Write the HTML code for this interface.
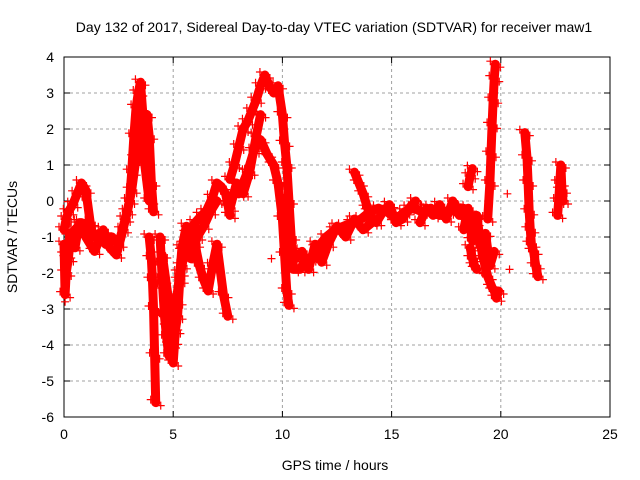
<!DOCTYPE html>
<html><head><meta charset="utf-8"><style>
body{margin:0;background:#fff}
svg{display:block;font-family:"Liberation Sans",sans-serif}
</style></head><body>
<svg id="chart" width="640" height="480">
<text x="334" y="32" font-size="14" text-anchor="middle">Day 132 of 2017, Sidereal Day-to-day VTEC variation (SDTVAR) for receiver maw1</text>
<text x="335" y="470" font-size="14" text-anchor="middle">GPS time / hours</text>
<text transform="translate(17,237) rotate(-90)" font-size="14" text-anchor="middle">SDTVAR / TECUs</text>
<g id="grid"></g>
<g id="axes"></g>
<g id="marks"></g>
</svg>
<script>
const xTicks=[0,5,10,15,20,25];
const yTicks=[4,3,2,1,0,-1,-2,-3,-4,-5,-6];
const trackA_t=[0,0.1,0.2,0.4,0.6,0.8,1.0,1.2,1.3];
const trackA_v=[-0.8,-0.5,-0.3,-0.1,0.2,0.5,0.3,-0.6,-0.9];
const trackB_t=[0,0.05,0.1,0.2,0.3,0.5,0.8,1.0,1.3,1.6,1.9,2.2,2.5,2.8,3.0,3.1,3.2,3.3,3.4,3.5,3.6,3.7,3.8,3.9,4.0,4.1];
const trackB_v=[-1.2,-2.6,-2.0,-1.6,-1.0,-0.8,-0.6,-0.7,-1.0,-0.9,-1.2,-1.0,-1.2,-0.5,0.0,0.8,1.8,2.6,3.0,3.3,2.5,1.5,2.4,1.8,0.5,-0.3];
const trackB2_t=[0.1,0.3,0.5,0.7,1.0,1.4,1.8,2.1,2.4,2.7,2.9,3.1,3.3,3.5,3.7,3.9];
const trackB2_v=[-1.5,-0.9,-1.3,-0.6,-1.0,-1.4,-0.8,-1.3,-1.5,-0.8,-0.3,0.3,1.2,2.2,1.0,0.0];
const trackC_t=[3.9,4.0,4.05,4.1,4.15,4.2];
const trackC_v=[-1.0,-1.6,-2.2,-3.0,-4.3,-5.6];
const trackD_t=[4.4,4.5,4.6,4.7,4.8,4.9,5.0,5.1,5.2,5.3,5.4,5.6,5.8,6.0,6.3,6.5,6.8,7.0,7.2,7.4,7.6];
const trackD_v=[-1.0,-2.2,-3.2,-3.8,-4.3,-4.0,-4.5,-3.6,-3.2,-2.2,-1.8,-1.2,-1.0,-0.6,-0.4,-0.3,0.1,0.5,0.4,0.2,-0.4];
const trackE_t=[4.5,4.8,5.0,5.3,5.5,5.7,6.0,6.2,6.4,6.6,6.8,7.0,7.3,7.5];
const trackE_v=[-1.5,-2.8,-3.5,-2.0,-1.4,-0.9,-1.2,-1.8,-2.2,-2.5,-1.8,-1.2,-2.6,-3.2];
const trackE2_t=[4.6,4.8,5.0,5.2,5.4,5.6,5.8,6.1,6.4,6.7,7.0];
const trackE2_v=[-2.5,-3.5,-3.9,-2.8,-1.3,-0.7,-1.6,-1.0,-0.7,-0.3,0.0];
const trackF_t=[7.6,7.8,8.0,8.2,8.4,8.6,8.8,9.0,9.2,9.4,9.6,9.8,10.0,10.1,10.2,10.3,10.4,10.5];
const trackF_v=[0.6,1.0,1.5,2.0,2.2,2.5,2.8,3.2,3.5,3.2,3.0,3.2,2.4,1.6,1.0,0.0,-1.0,-1.8];
const trackG_t=[8.0,8.4,8.7,9.0,9.3,9.6,9.8,10.0,10.1,10.2,10.3];
const trackG_v=[0.2,0.8,1.4,1.7,1.3,1.0,0.5,-0.5,-1.5,-2.5,-2.9];
const trackG2_t=[7.6,7.9,8.2,8.5,8.8,9.0];
const trackG2_v=[-0.2,0.5,0.2,0.8,1.8,2.4];
const trackH_t=[10.5,10.8,11.0,11.3,11.6,12.0,12.4,12.8,13.2,13.6,14.0,14.4,14.8,15.2,15.6,16.0,16.4,16.8,17.2,17.6,18.0,18.3];
const trackH_v=[-1.9,-1.9,-1.7,-1.6,-1.3,-1.0,-0.8,-0.7,-0.6,-0.5,-0.3,-0.2,-0.3,-0.5,-0.3,-0.2,-0.3,-0.2,-0.4,-0.3,-0.2,-0.2];
const trackH2_t=[10.6,10.9,11.2,11.5,11.8,12.1,12.5,12.9,13.3,13.7,14.1];
const trackH2_v=[-1.6,-1.4,-1.9,-1.2,-1.7,-1.2,-0.7,-1.0,-0.5,-0.8,-0.6];
const trackI_t=[13.3,13.5,13.7,13.9,14.1,14.3,14.6,14.9,15.2,15.5,15.8,16.1];
const trackI_v=[0.8,0.5,0.2,-0.2,-0.5,-0.6,-0.3,-0.1,-0.6,-0.5,-0.2,0.0];
const trackI2_t=[16.3,16.6,16.9,17.2,17.5,17.8,18.1];
const trackI2_v=[-0.6,-0.2,-0.4,-0.1,-0.5,0.0,-0.4];
const trackJ_t=[18.2,18.4,18.6,18.8,19.0,19.2,19.4,19.6,19.7,19.8,19.9];
const trackJ_v=[-0.3,-0.5,-0.8,-0.6,-1.0,-1.6,-2.1,-2.4,-2.5,-2.7,-2.5];
const trackJ2_t=[18.3,18.5,18.7,18.9,19.1,19.3,19.5,19.7];
const trackJ2_v=[-0.8,-0.2,-1.1,-0.4,-1.3,-0.9,-1.8,-1.4];
const trackK_t=[18.6,18.7,18.8,18.9];
const trackK_v=[-1.3,-1.6,-1.8,-1.9];
const trackL_t=[18.5,18.6,18.7];
const trackL_v=[0.4,0.7,0.9];
const trackM_t=[19.4,19.5,19.55,19.6,19.65,19.7,19.75];
const trackM_v=[-0.5,0.5,1.3,2.1,2.8,3.4,3.8];
const trackN_t=[21.1,21.2,21.25,21.3,21.35,21.4,21.5,21.6,21.7];
const trackN_v=[1.9,1.2,0.5,-0.3,-0.8,-1.2,-1.4,-1.8,-2.1];
const trackO_t=[22.6,22.65,22.7,22.75,22.8,22.85];
const trackO_v=[-0.4,0.0,0.5,1.0,0.3,0.0];
const singles_t=[20.3,20.4,0.05,9.5];
const singles_v=[0.2,-1.9,-2.8,-1.6];
const tracks=[[trackA_t,trackA_v],[trackB_t,trackB_v],[trackB2_t,trackB2_v],[trackC_t,trackC_v],[trackD_t,trackD_v],[trackE_t,trackE_v],[trackE2_t,trackE2_v],[trackF_t,trackF_v],[trackG_t,trackG_v],[trackG2_t,trackG2_v],[trackH_t,trackH_v],[trackH2_t,trackH2_v],[trackI_t,trackI_v],[trackI2_t,trackI2_v],[trackJ_t,trackJ_v],[trackJ2_t,trackJ2_v],[trackK_t,trackK_v],[trackL_t,trackL_v],[trackM_t,trackM_v],[trackN_t,trackN_v],[trackO_t,trackO_v]];
const X0=64,X1=610,Y0=417,Y1=57;
const xs=t=>X0+(t-0)/25*(X1-X0);
const ys=v=>Y0-(v+6)/10*(Y0-Y1);
const NS="http://www.w3.org/2000/svg";
function mk(tag,parent,attrs){const e=document.createElementNS(NS,tag);for(const k in attrs)e.setAttribute(k,attrs[k]);parent.appendChild(e);return e;}
const grid=document.getElementById('grid'),axes=document.getElementById('axes'),marks=document.getElementById('marks');
xTicks.forEach(t=>{
  const x=xs(t);
  if(t>0&&t<25){const g=mk('line',grid,{x1:x,x2:x,y1:Y1,y2:Y0,stroke:'#a0a0a0','stroke-dasharray':'3,3'});
  
  }
  mk('line',axes,{x1:x,x2:x,y1:Y0,y2:Y0-6,stroke:'#000'});
  mk('line',axes,{x1:x,x2:x,y1:Y1,y2:Y1+6,stroke:'#000'});
  const l=mk('text',axes,{x:x,y:Y0+22,'font-size':14,'text-anchor':'middle'});l.textContent=t;
  
  
});
yTicks.forEach(v=>{
  const y=ys(v);
  if(v>-6&&v<4){const g=mk('line',grid,{x1:X0,x2:X1,y1:y,y2:y,stroke:'#a0a0a0','stroke-dasharray':'3,3'});
  
  }
  mk('line',axes,{x1:X0,x2:X0+6,y1:y,y2:y,stroke:'#000'});
  mk('line',axes,{x1:X1,x2:X1-6,y1:y,y2:y,stroke:'#000'});
  const l=mk('text',axes,{x:X0-10,y:y+5,'font-size':14,'text-anchor':'end'});l.textContent=v;
  
  
});
const fr=mk('rect',axes,{x:X0,y:Y1,width:X1-X0,height:Y0-Y1,fill:'none',stroke:'#000'});


function plus(x,y){const p=mk('path',marks,{d:`M${x-4},${y}h8M${x},${y-4}v8`,stroke:'#f00','stroke-width':1.2});
  
  }
tracks.forEach(([ts,vs])=>{
  const pts=ts.map((t,i)=>xs(t)+','+ys(vs[i])).join(' ');
  const pl=mk('polyline',marks,{points:pts,fill:'none',stroke:'#f00','stroke-width':9,'stroke-linejoin':'round','stroke-linecap':'round'});
  
  
  ts.forEach((t,i)=>{plus(xs(t)+5,ys(vs[i])+3);plus(xs(t)-5,ys(vs[i])-3);});
});
singles_t.forEach((t,i)=>plus(xs(t),ys(singles_v[i])));
</script>
</body></html>
